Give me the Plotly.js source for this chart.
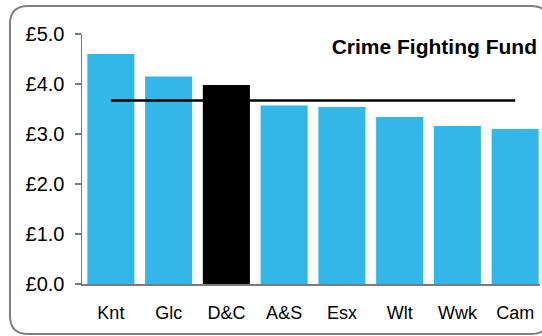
<!DOCTYPE html>
<html>
<head>
<meta charset="utf-8">
<script src="https://cdn.plot.ly/plotly-3.0.1.min.js"></script>
<style>
html,body{margin:0;padding:0;background:#fff;overflow:hidden;}
#chart{width:542px;height:336px;}
</style>
</head>
<body>
<div id="chart"></div>
<script>
const categories = ["Knt","Glc","D&C","A&S","Esx","Wlt","Wwk","Cam"];
const fundValues = [4.60,4.15,3.98,3.57,3.54,3.34,3.16,3.10];
const barColors = ["#33B7E8","#33B7E8","#000000","#33B7E8","#33B7E8","#33B7E8","#33B7E8","#33B7E8"];
const averageLine = [3.67,3.67,3.67,3.67,3.67,3.67,3.67,3.67];
const yTickValues = [0,1,2,3,4,5];
const yTickLabels = ["£0.0","£1.0","£2.0","£3.0","£4.0","£5.0"];
const chartTitle = "Crime Fighting Fund";

const font = "Liberation Sans, Arial, sans-serif";
const W = 542, H = 336, ML = 82, MR = 2, MT = 34, MB = 52;
const PW = W - ML - MR, PH = H - MT - MB;
const px = v => (v - ML) / PW;
const py = v => (H - MB - v) / PH;
const fl = 10, ft = 6, fr = 549, fb = 334, rad = 18;
const framePath = [
  "M", px(fl), py(ft + rad),
  "Q", px(fl), py(ft), px(fl + rad), py(ft),
  "L", px(fr - rad), py(ft),
  "Q", px(fr), py(ft), px(fr), py(ft + rad),
  "L", px(fr), py(fb - rad),
  "Q", px(fr), py(fb), px(fr - rad), py(fb),
  "L", px(fl + rad), py(fb),
  "Q", px(fl), py(fb), px(fl), py(fb - rad),
  "Z"
].map(t => typeof t === "number" ? t.toFixed(5) : t).join(" ");

const data = [
  {type:"bar", x:categories, y:fundValues, marker:{color:barColors, line:{width:0}}, hoverinfo:"none"},
  {type:"scatter", mode:"lines", x:categories, y:averageLine, line:{color:"#000000", width:2.5}, hoverinfo:"none"}
];
const layout = {
  width:W, height:H,
  margin:{l:ML, r:MR, t:MT, b:MB},
  paper_bgcolor:"#ffffff", plot_bgcolor:"rgba(0,0,0,0)",
  showlegend:false,
  bargap:0.185,
  font:{family:font, color:"#000"},
  title:{text:"<b>"+chartTitle+"</b>", font:{family:font, size:21, color:"#000"}, x:537/542, xanchor:"right", xref:"container", y:1-47/336, yanchor:"middle", yref:"container"},
  shapes:[{type:"path", xref:"paper", yref:"paper", path:framePath, line:{color:"#808080", width:2}, fillcolor:"rgba(0,0,0,0)", layer:"below"}],
  xaxis:{type:"category", range:[-0.5,7.43], showline:true, linecolor:"#7a7a7a", linewidth:1.5, ticks:"", tickfont:{size:18, family:font}, ticklabelstandoff:12, showgrid:false, zeroline:false, fixedrange:true},
  yaxis:{range:[0,5], tickvals:yTickValues, ticktext:yTickLabels, showline:true, linecolor:"#7a7a7a", linewidth:1.5, ticks:"outside", ticklen:6, tickwidth:1.5, tickcolor:"#7a7a7a", tickfont:{size:20, family:font}, ticklabelstandoff:6, showgrid:false, zeroline:false, fixedrange:true}
};
Plotly.newPlot("chart", data, layout, {displayModeBar:false, staticPlot:true});
</script>
</body>
</html>
